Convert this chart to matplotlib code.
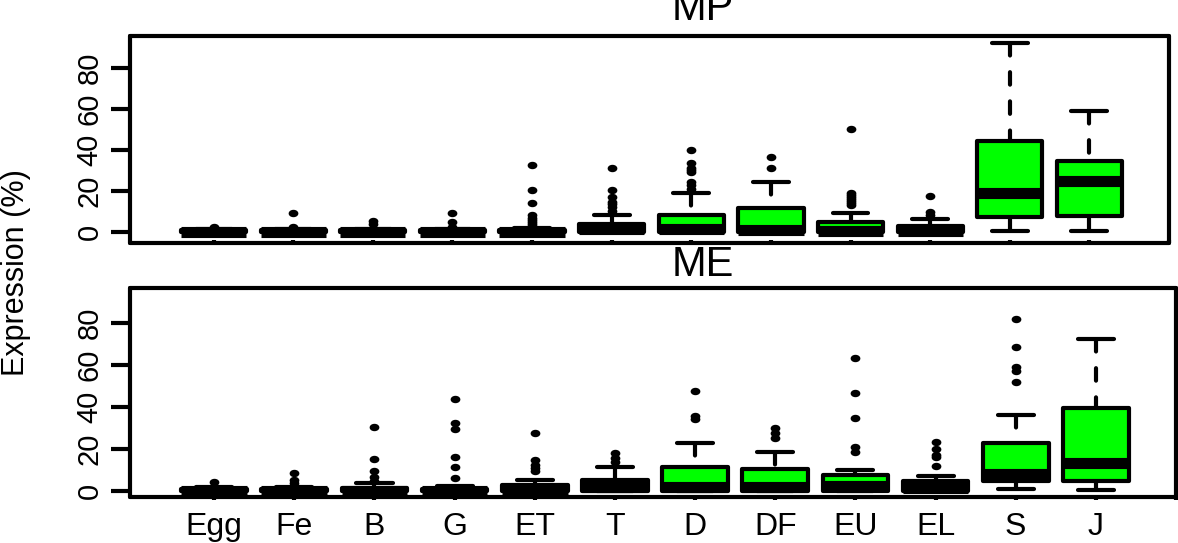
import numpy as np
import matplotlib.pyplot as plt
from matplotlib.path import Path
from matplotlib.transforms import Affine2D

# stages on the x axis
cats = ['Egg', 'Fe', 'B', 'G', 'ET', 'T', 'D', 'DF', 'EU', 'EL', 'S', 'J']

# MP panel: box statistics
mp_q1 = [0, 0, 0, 0, 0, 0, 0, 0, 0, 0, 7.3, 7.8]
mp_med = [0, 0, 0, 0, 0, 1.5, 1.5, 1, 0.5, 0.5, 19, 25]
mp_q3 = [0.8, 0.8, 0.8, 0.8, 1, 4, 8.3, 11.7, 5, 3, 44.6, 34.8]
mp_lo = [0, 0, 0, 0, 0, 0, 0, 0, 0, 0, 0.5, 0.5]
mp_hi = [1.5, 1.5, 1.5, 1.5, 2, 8.3, 19, 24.4, 9.3, 6.3, 92, 58.8]
mp_fliers = [
    [2.5],
    [2.5, 9],
    [4, 5.5],
    [2.5, 5, 9],
    [3, 4, 5, 6, 7, 8.3, 14, 20.5, 32.7],
    [10, 12.2, 13.5, 14.6, 17, 20.5, 31],
    [21, 23, 24.4, 29, 30, 31, 33.7, 40],
    [31, 36.5],
    [13, 14, 15, 16, 17, 18, 19, 50],
    [8.3, 9.8, 17.5],
    [],
    [],
]

# ME panel
me_q1 = [0, 0, 0, 0, 0, 0, 0, 0, 0, 0, 4.8, 4.8]
me_med = [0, 0, 0, 0, 0.5, 2, 2, 2, 2.4, 1.5, 7.9, 13.1]
me_q3 = [1, 1, 1.5, 1, 3, 5.2, 11.4, 10.5, 7.6, 4.5, 22.9, 39.5]
me_lo = [0, 0, 0, 0, 0, 0, 0, 0, 0, 0, 1, 0.5]
me_hi = [2, 2, 4, 2.5, 5, 11.4, 22.9, 18.6, 10, 7.1, 36.2, 72.4]
me_fliers = [
    [4.3],
    [4, 5.2, 8.6],
    [4.8, 6.7, 9.5, 15.2, 30.5],
    [6.2, 11.4, 16.2, 29.5, 32.4, 44],
    [9.5, 11, 12.4, 14.8, 27.6],
    [13.8, 15.7, 18],
    [34.3, 35.7, 47.6],
    [25, 27.6, 30],
    [18.6, 21, 34.8, 46.7, 63.5],
    [12, 16, 17, 20, 23.3],
    [52, 57, 59, 68.6, 82],
    [],
]

W, H = 1178, 543
fig = plt.figure(figsize=(W / 100, H / 100), dpi=100)
plt.rcParams['font.family'] = ['Liberation Sans', 'DejaVu Sans']

# flattened dot for outliers
dot = Path.unit_circle().transformed(Affine2D().scale(1.0, 0.72))


def panel(rect, q1, med, q3, lo, hi, fliers, ylim, title, tick_dir):
    ax = fig.add_axes([rect[0] / W, 1 - rect[3] / H,
                       (rect[2] - rect[0]) / W, (rect[3] - rect[1]) / H])
    stats = [dict(q1=a, med=b, q3=c, whislo=d, whishi=e, fliers=f)
             for a, b, c, d, e, f in zip(q1, med, q3, lo, hi, fliers)]
    bp = ax.bxp(stats, positions=range(1, 13), widths=0.82, capwidths=0.45,
                patch_artist=True,
                boxprops=dict(facecolor='#00ff00', edgecolor='black',
                              linewidth=3, joinstyle='round'),
                medianprops=dict(color='black', linewidth=8,
                                 solid_capstyle='butt'),
                whiskerprops=dict(color='black', linewidth=3,
                                  linestyle=(0, (3, 4)),
                                  dash_capstyle='round'),
                capprops=dict(color='black', linewidth=3,
                              solid_capstyle='round'),
                flierprops=dict(marker=dot, markerfacecolor='black',
                                markeredgecolor='black', markersize=6))
    # dashes start at the whisker end, as in R
    for w in bp['whiskers']:
        w.set_ydata(w.get_ydata()[::-1])
    ax.set_xlim(-0.05, 13.0)
    ax.set_ylim(*ylim)
    ax.set_yticks([0, 20, 40, 60, 80])
    ax.set_yticklabels(['0', '20', '40', '60', '80'], rotation=90,
                       va='center', fontsize=21)
    ax.tick_params(axis='y', length=14, width=3, pad=5)
    ax.set_xticks(range(1, 14))
    ax.tick_params(axis='x', length=2.5, width=3, direction=tick_dir)
    for s in ax.spines.values():
        s.set_linewidth(3)
        s.set_capstyle('round')
    fig.text(703 / W, 1 - title[1] / H, title[0], ha='center',
             va='baseline', fontsize=30)
    return ax


ax1 = panel((130, 36, 1169, 243), mp_q1, mp_med, mp_q3, mp_lo, mp_hi,
            mp_fliers, (-5.4, 95.6), ('MP', 20), 'in')
ax1.set_xticklabels([])

ax2 = panel((130, 288, 1176, 497), me_q1, me_med, me_q3, me_lo, me_hi,
            me_fliers, (-2.9, 96.7), ('ME', 276), 'out')
ax2.set_xticklabels(cats + [''], fontsize=23)
ax2.tick_params(axis='x', pad=8)

fig.text(1 / W, 1 - 273 / H, 'Expression (%)', rotation=90, ha='left',
         va='center', fontsize=22)

fig.savefig('out.png', dpi=100)
